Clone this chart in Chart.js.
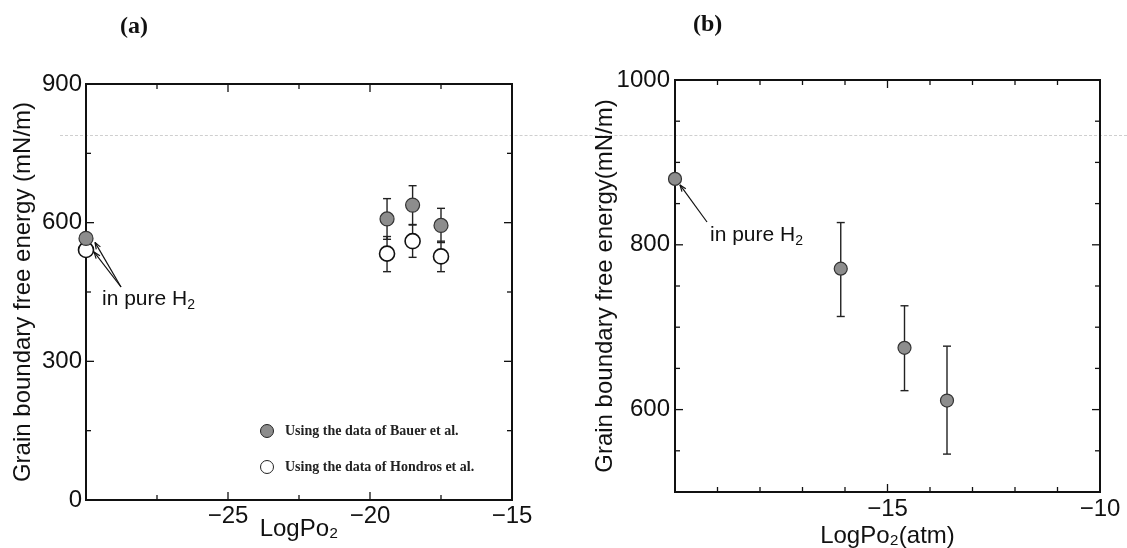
<!DOCTYPE html>
<html>
<head>
<meta charset="utf-8">
<script src="https://cdn.jsdelivr.net/npm/chart.js@4.4.0/dist/chart.umd.min.js"></script>
<style>
  body { margin: 0; background: #fff; }
  #page { position: relative; width: 1127px; height: 548px; overflow: hidden; font-family: "Liberation Sans", Arial, sans-serif; color: #111; }
  canvas { position: absolute; top: 0; }
  #chartA { left: 0; }
  #chartB { left: 560px; }
  .tag { position: absolute; font-family: "Liberation Serif", serif; font-weight: bold; font-size: 24px; line-height: 1; }
  .note { position: absolute; font-size: 21px; line-height: 1; white-space: nowrap; }
  .note sub { font-size: 14px; vertical-align: -4px; line-height: 0; }
  .leg { position: absolute; font-family: "Liberation Serif", serif; font-weight: bold; font-size: 14px; line-height: 1; white-space: nowrap; color: #222; }
  .dot { position: absolute; width: 12px; height: 12px; border-radius: 50%; border: 1.5px solid #222; }
  .scanline { position: absolute; left: 60px; right: 0; top: 135px; border-top: 1px dashed #cfcfcf; }
</style>
</head>
<body>
<div id="page">
  <div class="scanline"></div>
  <canvas id="chartA" width="560" height="548"></canvas>
  <canvas id="chartB" width="567" height="548"></canvas>

  <div class="tag" style="left:120px; top:13px;">(a)</div>
  <div class="tag" style="left:693px; top:11px;">(b)</div>

  <div class="note" style="left:102px; top:287px;">in pure H<sub>2</sub></div>
  <div class="note" style="left:710px; top:223px;">in pure H<sub>2</sub></div>

  <div class="dot" style="left:260px; top:424px; background:#8d8d8d;"></div>
  <div class="leg" style="left:285px; top:424px;">Using the data of Bauer et al.</div>
  <div class="dot" style="left:260px; top:460px; background:#fff;"></div>
  <div class="leg" style="left:285px; top:460px;">Using the data of Hondros et al.</div>
</div>

<script>
// (a) LogPo2 vs grain boundary free energy, two data sources
const xA = [-30, -19.4, -18.5, -17.5];
const bauerA = [566, 608, 638, 594];
const bauerLoA = [null, 564, 596, 557];
const bauerHiA = [null, 652, 680, 631];
const hondrosA = [541, 533, 560, 527];
const hondrosLoA = [null, 494, 525, 494];
const hondrosHiA = [null, 570, 595, 560];
const xTicksA = [-25, -20, -15];
const yTicksA = [0, 300, 600, 900];

// (b) LogPo2(atm) vs grain boundary free energy
const xB = [-20, -16.1, -14.6, -13.6];
const gammaB = [880, 771, 675, 611];
const gammaLoB = [null, 713, 623, 546];
const gammaHiB = [null, 827, 726, 677];
const xTicksB = [-15, -10];
const yTicksB = [600, 800, 1000];

const FONT = "'Liberation Sans', Arial, sans-serif";

function pts(xs, ys) {
    return xs.map((x, i) => ({ x, y: ys[i] }));
}

function minus(v) {
    return v < 0 ? '\u2212' + Math.abs(v) : String(v);
}

function labelIf(list) {
    return v => list.some(t => Math.abs(t - v) < 1e-6) ? minus(v) : '';
}

// frame, inward ticks on four sides, error bars and pointer arrows
const framePlugin = {
    id: 'frame',
    beforeDatasetsDraw(chart, args, opts) {
        const { ctx, chartArea: a, scales: { x, y } } = chart;
        ctx.save();
        ctx.strokeStyle = '#111';
        ctx.lineWidth = 2;
        ctx.strokeRect(a.left, a.top, a.right - a.left, a.bottom - a.top);

        ctx.lineWidth = 1.3;
        const seg = (x1, y1, x2, y2) => {
            ctx.beginPath();
            ctx.moveTo(x1, y1);
            ctx.lineTo(x2, y2);
            ctx.stroke();
        };
        x.ticks.forEach(t => {
            const px = x.getPixelForValue(t.value);
            const len = t.label ? 8 : 5;
            seg(px, a.bottom, px, a.bottom - len);
            seg(px, a.top, px, a.top + len);
        });
        y.ticks.forEach(t => {
            const py = y.getPixelForValue(t.value);
            const len = t.label ? 8 : 5;
            seg(a.left, py, a.left + len, py);
            seg(a.right, py, a.right - len, py);
        });

        ctx.lineWidth = 1.4;
        ctx.strokeStyle = '#222';
        chart.data.datasets.forEach(ds => {
            if (!ds.errLow) return;
            ds.data.forEach((p, j) => {
                if (ds.errLow[j] == null) return;
                const px = x.getPixelForValue(p.x);
                const lo = y.getPixelForValue(ds.errLow[j]);
                const hi = y.getPixelForValue(ds.errHigh[j]);
                seg(px, lo, px, hi);
                seg(px - 4, lo, px + 4, lo);
                seg(px - 4, hi, px + 4, hi);
            });
        });

        ctx.lineWidth = 1.2;
        ctx.strokeStyle = '#111';
        (opts.arrows || []).forEach(ar => {
            const p = chart.data.datasets[ar.ds].data[0];
            const tx = x.getPixelForValue(p.x) + ar.dx;
            const ty = y.getPixelForValue(p.y) + ar.dy;
            seg(ar.tail[0], ar.tail[1], tx, ty);
            const ang = Math.atan2(ty - ar.tail[1], tx - ar.tail[0]);
            seg(tx, ty, tx - 7 * Math.cos(ang - 0.35), ty - 7 * Math.sin(ang - 0.35));
            seg(tx, ty, tx - 7 * Math.cos(ang + 0.35), ty - 7 * Math.sin(ang + 0.35));
        });
        ctx.restore();
    }
};

function axisOpts(min, max, step, shown, titleText, titlePad, size, tickPad) {
    return {
        type: 'linear',
        min, max,
        grid: { display: false, drawTicks: false },
        border: { display: false },
        ticks: {
            stepSize: step,
            autoSkip: false,
            maxRotation: 0,
            padding: tickPad,
            color: '#111',
            font: { family: FONT, size: 24 },
            callback: labelIf(shown),
        },
        title: {
            display: true,
            text: titleText,
            color: '#111',
            font: { family: FONT, size: 24, lineHeight: 1 },
            padding: titlePad,
        },
        afterFit(scale) {
            if (scale.isHorizontal()) scale.height = size;
            else scale.width = size;
        },
    };
}

function makeChart(id, datasets, scales, padding, arrows) {
    return new Chart(document.getElementById(id), {
        type: 'scatter',
        data: { datasets },
        options: {
            responsive: false,
            animation: false,
            devicePixelRatio: 1,
            layout: { padding },
            plugins: {
                legend: { display: false },
                tooltip: { enabled: false },
                frame: { arrows },
            },
            scales,
        },
        plugins: [framePlugin],
    });
}

makeChart('chartA', [
    {
        label: 'Using the data of Bauer et al.',
        data: pts(xA, bauerA),
        errLow: bauerLoA,
        errHigh: bauerHiA,
        pointRadius: 7,
        backgroundColor: '#8d8d8d',
        borderColor: '#333',
        borderWidth: 1.2,
        clip: false,
    },
    {
        label: 'Using the data of Hondros et al.',
        data: pts(xA, hondrosA),
        errLow: hondrosLoA,
        errHigh: hondrosHiA,
        pointRadius: 7.5,
        backgroundColor: '#fff',
        borderColor: '#111',
        borderWidth: 1.6,
        clip: false,
    },
], {
    x: axisOpts(-30, -15, 2.5, xTicksA, 'LogPo\u2082', { top: 0, bottom: 7 }, 48, 2),
    y: axisOpts(0, 900, 150, yTicksA, 'Grain boundary free energy (mN/m)', { top: 11, bottom: 0 }, 86, 4),
}, { top: 84, right: 48, left: 0, bottom: 0 }, [
    { ds: 0, dx: 9, dy: 4, tail: [121, 287] },
    { ds: 1, dx: 8, dy: 2, tail: [121, 287] },
]);

makeChart('chartB', [
    {
        label: 'Grain boundary free energy',
        data: pts(xB, gammaB),
        errLow: gammaLoB,
        errHigh: gammaHiB,
        pointRadius: 6.5,
        backgroundColor: '#8d8d8d',
        borderColor: '#333',
        borderWidth: 1.2,
        clip: false,
    },
], {
    x: axisOpts(-20, -10, 1, xTicksB, 'LogPo\u2082(atm)', { top: 0, bottom: 0 }, 56, 3),
    y: axisOpts(500, 1000, 50, yTicksB, 'Grain boundary free energy(mN/m)', { top: 33, bottom: 0 }, 115, 5),
}, { top: 80, right: 27, left: 0, bottom: 0 }, [
    { ds: 0, dx: 5, dy: 6, tail: [147, 222] },
]);
</script>
</body>
</html>
